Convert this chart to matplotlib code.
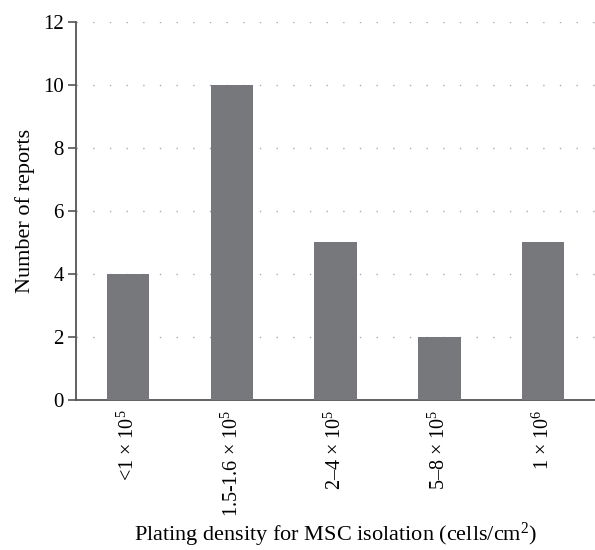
import matplotlib.pyplot as plt

categories = [r'<1 × 10$^5$', r'1.5-1.6 × 10$^5$', r'2–4 × 10$^5$',
              r'5–8 × 10$^5$', r'1 × 10$^6$']
reports = [4, 10, 5, 2, 5]

plt.rcParams['font.family'] = ['Liberation Serif', 'DejaVu Serif']
plt.rcParams['mathtext.fontset'] = 'custom'
plt.rcParams['mathtext.rm'] = 'Liberation Serif'
plt.rcParams['mathtext.it'] = 'Liberation Serif:italic'

fig = plt.figure(figsize=(5.95, 5.5), dpi=100)
ax = fig.add_axes([0.128, 0.273, 0.872, 0.687])

x = range(len(categories))
ax.bar(x, reports, width=0.41, color='#77787b', zorder=3)

ax.set_xlim(-0.5, len(categories) - 0.5)
ax.set_ylim(0, 12)
ax.set_yticks(range(0, 13, 2))
ax.set_xticks(list(x))
ax.set_xticklabels(categories, rotation=90, fontsize=14.5)
ax.tick_params(axis='y', labelsize=15, length=6, width=1.2, color='#555555', pad=3)
ax.tick_params(axis='x', length=0, pad=7)

ax.yaxis.grid(True, linestyle=(0, (1, 11)), color='#aaaaaa', linewidth=1.0, zorder=0)

for side in ['top', 'right']:
    ax.spines[side].set_visible(False)
for side in ['left', 'bottom']:
    ax.spines[side].set_color('#555555')
    ax.spines[side].set_linewidth(1.3)

ax.set_ylabel('Number of reports', fontsize=16, labelpad=6)
ax.set_xlabel(r'Plating density for MSC isolation (cells/cm$^2$)', fontsize=16)
ax.xaxis.set_label_coords(0.5, -0.32)

fig.savefig('out.png', dpi=100)
